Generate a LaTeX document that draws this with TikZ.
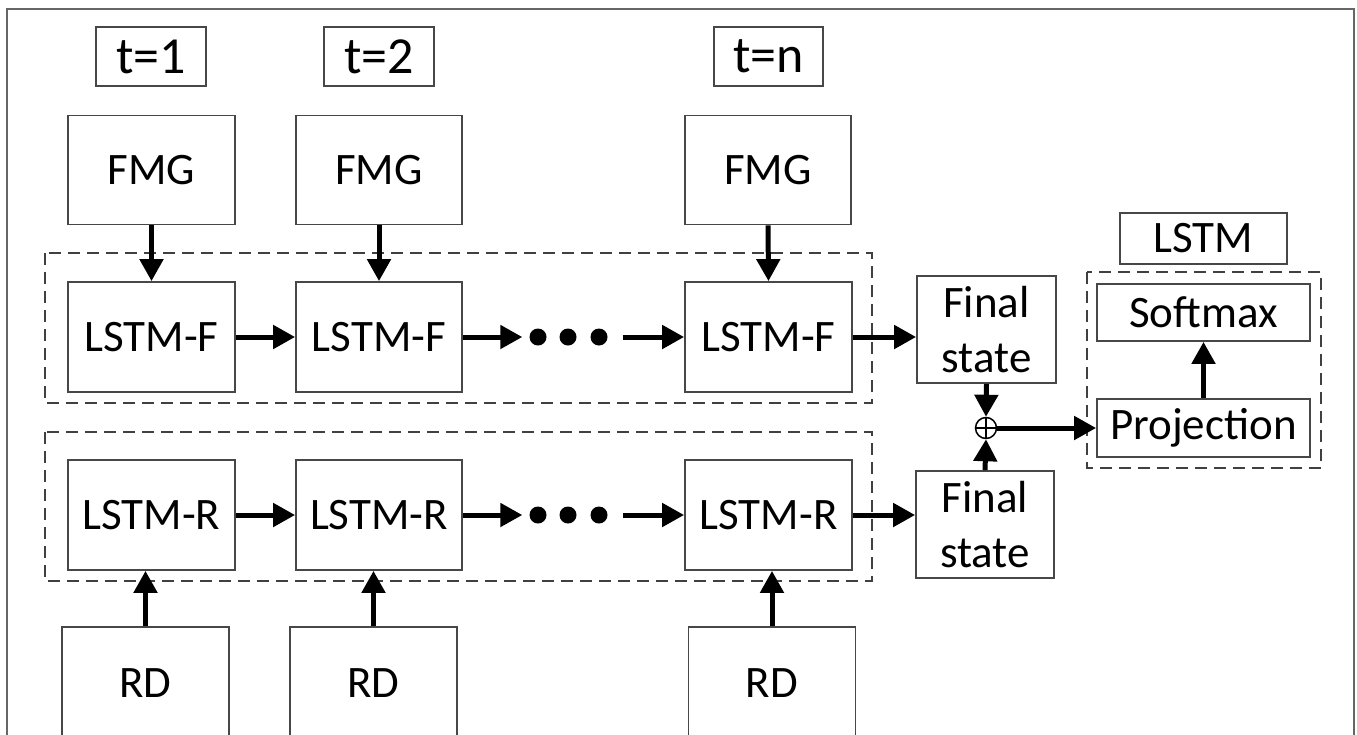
\documentclass[tikz,border=0pt]{standalone}
\usepackage{fontspec}
\setmainfont{Carlito}
\usetikzlibrary{arrows.meta}
\begin{document}
\begin{tikzpicture}[x=1pt,y=-1pt,
  box/.style={draw=black!72,line width=1.8pt,rectangle,inner sep=0pt,font=\fontsize{45}{55}\selectfont,align=center},
  tbox/.style={box,font=\fontsize{52}{60}\selectfont},
  grp/.style={draw=black!75,line width=1.8pt,dash pattern=on 12pt off 7pt},
  arr/.style={line width=5pt,-{Triangle[length=22pt,width=23pt]}},
  dot/.style={circle,fill=black,inner sep=0pt,minimum size=17pt}]
\useasboundingbox (0,0) rectangle (1357,734);
\fill[white] (0,0) rectangle (1357,734);
% outer frame
\draw[black!60,line width=2pt] (7,740) -- (7,9) -- (1354,9) -- (1354,740);
% time labels
\node[tbox,minimum width=110,minimum height=59] (t1) at (151,56.5) {t=1};
\node[tbox,minimum width=110,minimum height=59] (t2) at (379,56.5) {t=2};
\node[tbox,minimum width=109,minimum height=59] (tn) at (768.5,56.5) {t=n};
% FMG
\node[box,minimum width=167,minimum height=109] (f1) at (151.5,170) {FMG};
\node[box,minimum width=166,minimum height=109] (f2) at (379,170) {FMG};
\node[box,minimum width=166,minimum height=109] (f3) at (768,170) {FMG};
% dashed groups
\draw[grp] (45,253) rectangle (872,403);
\draw[grp] (45,432) rectangle (872,581);
% LSTM-F
\node[box,minimum width=167,minimum height=110] (lf1) at (151.5,337) {LSTM-F};
\node[box,minimum width=166,minimum height=110] (lf2) at (379,337) {LSTM-F};
\node[box,minimum width=167,minimum height=110] (lf3) at (768.5,337) {LSTM-F};
% LSTM-R
\node[box,minimum width=167,minimum height=110] (lr1) at (151.5,515) {LSTM-R};
\node[box,minimum width=166,minimum height=110] (lr2) at (379,515) {LSTM-R};
\node[box,minimum width=167,minimum height=110] (lr3) at (768.5,515) {LSTM-R};
% RD
\node[box,minimum width=167,minimum height=112] (r1) at (145.5,683) {RD};
\node[box,minimum width=167,minimum height=112] (r2) at (373.5,683) {RD};
\node[box,minimum width=167,minimum height=112] (r3) at (772,683) {RD};
% dots
\node[dot] (fd1) at (538,337) {};
\node[dot] (fd2) at (568,337) {};
\node[dot] (fd3) at (599,337) {};
\node[dot] (rd1) at (538,515) {};
\node[dot] (rd2) at (568,515) {};
\node[dot] (rd3) at (599,515) {};
% final states
\node[box,minimum width=139,minimum height=107] (fs1) at (986.5,329.5) {Final\\state};
\node[box,minimum width=138,minimum height=107] (fs2) at (985,524.5) {Final\\state};
\node[circle,draw=black,line width=1.5pt,minimum size=21pt,inner sep=0pt] (plus) at (986,428) {};
\draw[line width=1.2pt] (plus.north) -- (plus.south) (plus.west) -- (plus.east);
% right group
\node[box,minimum width=167,minimum height=51] (lstm) at (1203.5,238.5) {LSTM};
\draw[grp] (1087,272) rectangle (1321,468);
\node[box,minimum width=213,minimum height=57] (soft) at (1203.5,312.5) {Softmax};
\node[box,minimum width=213,minimum height=58] (proj) at (1203.5,428) {Projection};
% arrows
\foreach \i in {1,2,3} {
  \draw[arr] (f\i.south) -- (lf\i.north);
  \draw[arr] (r\i.north) -- (r\i.north |- lr\i.south);
}
\draw[arr] (lf1) -- (lf2);
\draw[arr,shorten >=7pt] (lf2) -- (fd1);
\draw[arr,shorten <=15pt] (fd3) -- (lf3);
\draw[arr] (lf3.east) -- (lf3.east -| fs1.west);
\draw[arr] (lr1) -- (lr2);
\draw[arr,shorten >=7pt] (lr2) -- (rd1);
\draw[arr,shorten <=15pt] (rd3) -- (lr3);
\draw[arr] (lr3.east) -- (lr3.east -| fs2.west);
\draw[arr] (fs1.south) -- (plus.north);
\draw[arr] (fs2.north) -- (plus.south);
\draw[arr] (plus.east) -- (proj.west);
\draw[arr] (proj.north) -- (soft.south);
\end{tikzpicture}
\end{document}
